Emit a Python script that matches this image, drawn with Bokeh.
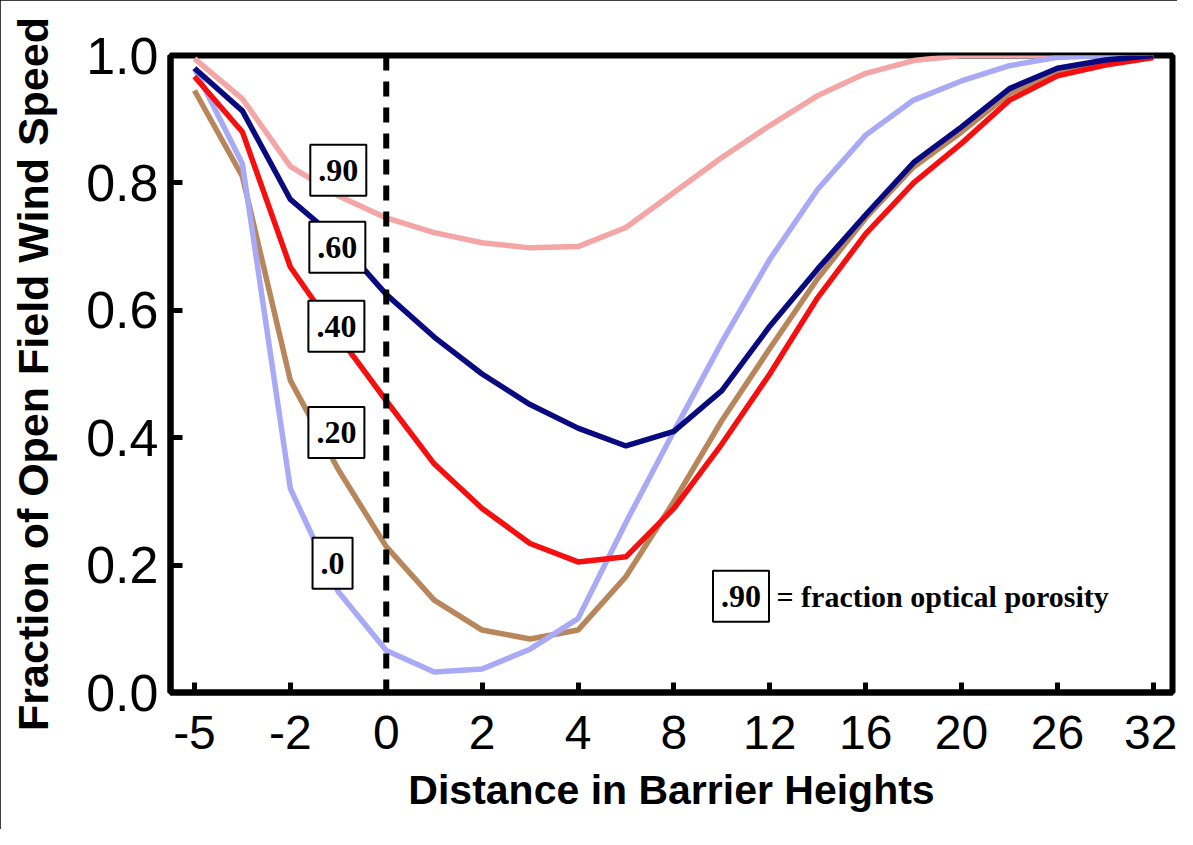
from bokeh.plotting import figure
from bokeh.models import ColumnDataSource, FixedTicker, PrintfTickFormatter, Span, Range1d
from bokeh.core.properties import value
from bokeh.embed import file_html
from bokeh.resources import INLINE

# ---- data ----
tick_labels = ["-5", "-2", "0", "2", "4", "8", "12", "16", "20", "26", "32"]
# measurement slots: every tick and the midpoint between ticks
slots = [0, 0.5, 1, 1.5, 2, 2.5, 3, 3.5, 4, 4.5, 5, 5.5, 6, 6.5, 7, 7.5, 8, 8.5, 9, 9.5, 10]

por_90 = [0.995, 0.932, 0.826, 0.78, 0.745, 0.722, 0.706, 0.698, 0.70, 0.73, 0.785,
          0.84, 0.89, 0.937, 0.972, 0.992, 1.0, 1.0, 1.0, 1.0, 1.0]
por_60 = [0.98, 0.913, 0.774, 0.71, 0.625, 0.558, 0.50, 0.452, 0.415, 0.387, 0.41,
          0.474, 0.575, 0.665, 0.75, 0.832, 0.888, 0.948, 0.98, 0.993, 1.0]
por_40 = [0.967, 0.88, 0.668, 0.56, 0.458, 0.359, 0.289, 0.234, 0.205, 0.213, 0.289,
          0.39, 0.50, 0.62, 0.72, 0.80, 0.862, 0.93, 0.968, 0.985, 0.997]
por_20 = [0.945, 0.81, 0.49, 0.35, 0.229, 0.145, 0.098, 0.084, 0.098, 0.182, 0.30,
          0.427, 0.54, 0.65, 0.745, 0.825, 0.88, 0.94, 0.975, 0.99, 1.0]
por_00 = [0.98, 0.83, 0.32, 0.158, 0.066, 0.032, 0.037, 0.068, 0.116, 0.267, 0.41,
          0.55, 0.68, 0.79, 0.875, 0.93, 0.96, 0.984, 0.997, 1.0, 1.0]

series_names = [".90", ".60", ".40", ".20", ".0"]
series_values = [por_90, por_60, por_40, por_20, por_00]
series_colors = ["#F4A5A5", "#0A0A80", "#F50F0F", "#B8865B", "#A8AAF5"]

# label box anchors (data coordinates)
label_x = [1.50, 1.49, 1.48, 1.48, 1.44]
label_y = [0.82, 0.699, 0.575, 0.408, 0.203]

note_box = ".90"
note_text = "= fraction optical porosity"
note_x = 5.70
note_text_x = 6.07
note_y = 0.151

# ---- figure ----
p = figure(width=1177, height=829, output_backend="svg", toolbar_location=None,
           x_range=Range1d(-0.25, 10.2), y_range=Range1d(0, 1),
           min_border_left=170, min_border_right=5, min_border_top=55, min_border_bottom=137)
p.styles = {"outline": "2px solid black", "outline-offset": "-2px"}

p.xgrid.visible = False
p.ygrid.visible = False
p.outline_line_color = "black"
p.outline_line_width = 6
p.background_fill_color = "white"
p.border_fill_color = "white"

draw_order = [0, 3, 4, 2, 1]
for k in draw_order:
    src = ColumnDataSource(dict(x=slots, y=series_values[k]))
    p.line("x", "y", source=src, line_color=series_colors[k], line_width=5.5)

zero_idx = tick_labels.index("0")
p.add_layout(Span(location=zero_idx, dimension="height", line_color="black",
                  line_width=6, line_dash="15 11"))

box_pad = dict(left=8, right=8, top=15, bottom=15)

# boxed porosity labels
lab_src = ColumnDataSource(dict(x=label_x, y=label_y, t=series_names))
p.text("x", "y", text="t", source=lab_src, text_font=value("Liberation Serif"),
       text_font_style="bold", text_font_size="32px", text_color="black",
       text_align="center", text_baseline="middle",
       background_fill_color="white", border_line_color="black", border_line_width=2,
       padding=box_pad)

note_src = ColumnDataSource(dict(x=[note_x], y=[note_y], t=[note_box]))
p.text("x", "y", text="t", source=note_src, text_font=value("Liberation Serif"),
       text_font_style="bold", text_font_size="32px", text_color="black",
       text_align="center", text_baseline="middle",
       background_fill_color="white", border_line_color="black", border_line_width=2,
       padding=box_pad)
note_src2 = ColumnDataSource(dict(x=[note_text_x], y=[note_y], t=[note_text]))
p.text("x", "y", text="t", source=note_src2, text_font=value("Liberation Serif"),
       text_font_style="bold", text_font_size="30px", text_color="black",
       text_align="left", text_baseline="middle")

# ---- axes ----
xa = p.xaxis[0]
xa.ticker = FixedTicker(ticks=list(range(len(tick_labels))))
xa.major_label_overrides = {i: lab for i, lab in enumerate(tick_labels)}
xa.axis_label = "Distance in Barrier Heights"
xa.axis_label_text_font = "Liberation Sans"
xa.axis_label_text_font_style = "bold"
xa.axis_label_text_font_size = "41px"
xa.axis_label_text_color = "black"
xa.axis_label_standoff = 15
xa.major_label_text_font = "Liberation Sans"
xa.major_label_text_font_size = "48px"
xa.major_label_text_color = "black"
xa.major_label_standoff = 23
xa.axis_line_width = 6
xa.major_tick_in = 10
xa.major_tick_out = 0
xa.major_tick_line_width = 5
xa.minor_tick_line_color = None

ya = p.yaxis[0]
ya.ticker = FixedTicker(ticks=[0, 0.2, 0.4, 0.6, 0.8, 1.0])
ya.formatter = PrintfTickFormatter(format="%.1f")
ya.axis_label = "Fraction of Open Field Wind Speed"
ya.axis_label_text_font = "Liberation Sans"
ya.axis_label_text_font_style = "bold"
ya.axis_label_text_font_size = "43px"
ya.axis_label_text_color = "black"
ya.axis_label_standoff = 26
ya.major_label_text_font = "Liberation Sans"
ya.major_label_text_font_size = "52px"
ya.major_label_text_color = "black"
ya.major_label_standoff = 12
ya.axis_line_width = 6
ya.major_tick_in = 12
ya.major_tick_out = 0
ya.major_tick_line_width = 5
ya.minor_tick_line_color = None

open("out.html", "w").write(file_html(p, INLINE))
